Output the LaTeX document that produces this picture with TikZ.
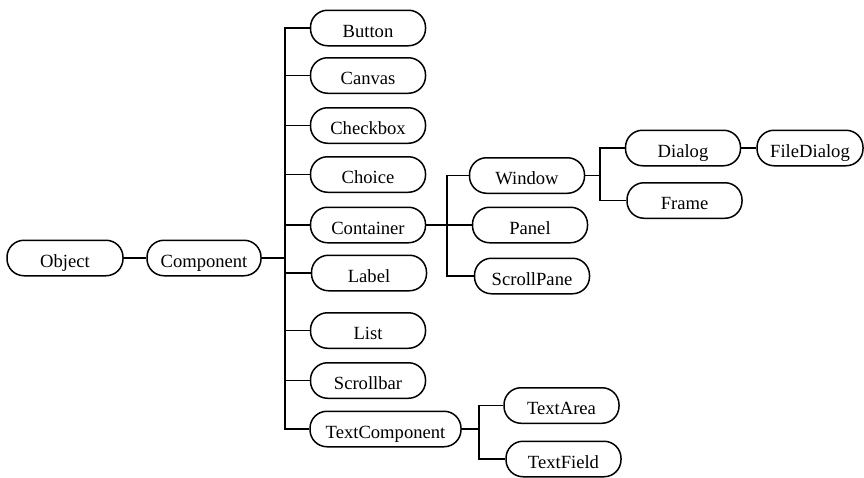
\documentclass[tikz,border=0pt]{standalone}
\usepackage{fontspec}
\setmainfont{Liberation Serif}
\begin{document}
\begin{tikzpicture}[x=1pt,y=-1pt,
  cls/.style={draw, line width=1.5pt, rounded corners=17pt, minimum width=115pt,
    minimum height=35.5pt, inner sep=0pt, text height=18pt, text depth=0pt,
    font=\fontsize{18.6}{20}\selectfont},
  link/.style={line width=1.7pt}]
\useasboundingbox (0,0) rectangle (864,477);
% nodes
\node[cls, minimum width=116pt] (obj) at (65,258) {Object};
\node[cls, minimum width=114pt] (comp) at (204,258) {Component};
\node[cls] (button) at (368,28) {Button};
\node[cls] (canvas) at (368,75.5) {Canvas};
\node[cls] (checkbox) at (368,125.5) {Checkbox};
\node[cls] (choice) at (368,174.5) {Choice};
\node[cls] (container) at (368,225) {Container};
\node[cls] (label) at (369,273) {Label};
\node[cls] (list) at (368,330.5) {List};
\node[cls] (scrollbar) at (368,380.5) {Scrollbar};
\node[cls, minimum width=151pt] (tc) at (385.5,429) {TextComponent};
\node[cls] (window) at (527,175.5) {Window};
\node[cls] (panel) at (530,225) {Panel};
\node[cls] (scrollpane) at (532,276) {ScrollPane};
\node[cls] (dialog) at (683,148) {Dialog};
\node[cls] (frame) at (684.5,200.5) {Frame};
\node[cls, minimum width=106pt] (filedialog) at (810,148) {FileDialog};
\node[cls] (textarea) at (561.5,405.5) {TextArea};
\node[cls] (textfield) at (563.5,459) {TextField};
% trunk coordinates
\coordinate (t1) at (285,0);
\coordinate (t2) at (447,0);
\coordinate (t3) at (600,0);
\coordinate (t4) at (479,0);
% connectors
\draw[link] (obj.east) -- (comp.west);
\draw[link] (comp.east) -- (comp.east -| t1);
\draw[link] (button.west) -| (t1 |- tc.west) -- (tc.west);
\foreach \n in {canvas,checkbox,choice,container,label,list,scrollbar}
  \draw[link] (\n.west) -- (\n.west -| t1);
\draw[link] (container.east) -- (panel.west);
\draw[link] (window.west) -| (t2 |- scrollpane.west) -- (scrollpane.west);
\draw[link] (window.east) -- (window.east -| t3);
\draw[link] (dialog.west) -| (t3 |- frame.west) -- (frame.west);
\draw[link] (dialog.east) -- (filedialog.west);
\draw[link] (tc.east) -- (tc.east -| t4);
\draw[link] (textarea.west) -| (t4 |- textfield.west) -- (textfield.west);
\end{tikzpicture}
\end{document}
